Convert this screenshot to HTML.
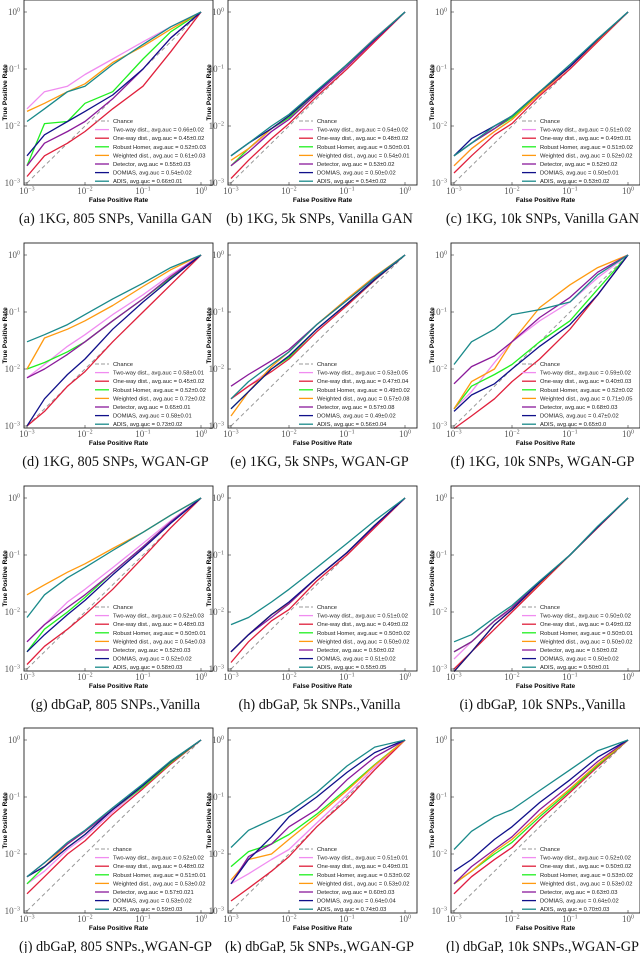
<!DOCTYPE html>
<html><head><meta charset="utf-8"><style>
html,body{margin:0;padding:0;background:#fff;width:640px;height:953px;overflow:hidden}
svg text{font-family:"Liberation Sans",sans-serif}
svg text.serif{font-family:"Liberation Serif",serif}
</style></head><body>
<svg id="fig" width="640" height="953" xmlns="http://www.w3.org/2000/svg"></svg>
<script>
const fpr = [0.001,0.002,0.005,0.01,0.03,0.1,0.3,1];
const seriesNames = ["Two-way dist.","One-way dist.","Robust Homer","Weighted dist.","Detector","DOMIAS","ADIS"];
const seriesColors = ["#f08cf0","#e0203c","#20f020","#ff9a10","#8a1a9a","#10108a","#1a8a8a"];
const captions = ["(a) 1KG, 805 SNPs, Vanilla GAN","(b) 1KG, 5k SNPs, Vanilla GAN","(c) 1KG, 10k SNPs, Vanilla GAN","(d) 1KG, 805 SNPs, WGAN-GP","(e) 1KG, 5k SNPs, WGAN-GP","(f) 1KG, 10k SNPs, WGAN-GP","(g) dbGaP, 805 SNPs.,Vanilla","(h) dbGaP, 5k SNPs.,Vanilla","(i) dbGaP, 10k SNPs.,Vanilla","(j) dbGaP, 805 SNPs.,WGAN-GP","(k) dbGaP, 5k SNPs.,WGAN-GP","(l) dbGaP, 10k SNPs.,WGAN-GP"];
const chanceLabels = ["Chance","Chance","Chance","Chance","Chance","Chance","Chance","Chance","Chance","chance","Chance","Chance"];
const aucA = ["0.66±0.02","0.45±0.02","0.52±0.03","0.61±0.03","0.55±0.03","0.54±0.02","0.66±0.01"];
const aucB = ["0.54±0.02","0.48±0.02","0.50±0.01","0.54±0.01","0.53±0.02","0.50±0.02","0.54±0.02"];
const aucC = ["0.51±0.02","0.49±0.01","0.51±0.02","0.52±0.02","0.52±0.02","0.50±0.01","0.53±0.02"];
const aucD = ["0.58±0.01","0.45±0.02","0.52±0.02","0.72±0.02","0.65±0.01","0.58±0.01","0.73±0.02"];
const aucE = ["0.53±0.05","0.47±0.04","0.49±0.02","0.57±0.08","0.57±0.08","0.49±0.02","0.56±0.04"];
const aucF = ["0.59±0.02","0.40±0.03","0.52±0.02","0.71±0.05","0.68±0.03","0.47±0.02","0.65±0.0"];
const aucG = ["0.52±0.03","0.48±0.03","0.50±0.01","0.54±0.03","0.52±0.03","0.52±0.02","0.58±0.03"];
const aucH = ["0.51±0.02","0.49±0.02","0.50±0.02","0.50±0.02","0.50±0.02","0.51±0.02","0.55±0.05"];
const aucI = ["0.50±0.02","0.49±0.02","0.50±0.01","0.50±0.02","0.50±0.02","0.50±0.02","0.50±0.01"];
const aucJ = ["0.52±0.02","0.48±0.02","0.51±0.01","0.53±0.02","0.57±0.021","0.53±0.02","0.59±0.03"];
const aucK = ["0.51±0.01","0.49±0.01","0.53±0.02","0.53±0.02","0.60±0.03","0.64±0.04","0.74±0.03"];
const aucL = ["0.52±0.02","0.50±0.02","0.53±0.02","0.53±0.02","0.63±0.03","0.64±0.02","0.70±0.03"];
const tprA = [[.02,.04,.05,.08,.15,.3,.55,1],[.0013,.003,.005,.008,.02,.05,.2,1],[.002,.011,.012,.025,.04,.15,.45,1],[.018,.025,.04,.055,.13,.25,.5,1],[.002,.005,.008,.012,.03,.1,.35,1],[.003,.007,.012,.018,.035,.1,.35,1],[.012,.02,.04,.05,.12,.27,.55,1]];
const tprB = [[.002,.004,.008,.014,.04,.12,.35,1],[.0012,.0025,.006,.011,.033,.1,.3,1],[.002,.004,.009,.014,.04,.12,.34,1],[.0025,.004,.009,.015,.04,.12,.34,1],[.002,.0035,.008,.013,.037,.11,.32,1],[.003,.005,.009,.015,.04,.12,.33,1],[.003,.005,.01,.016,.042,.12,.34,1]];
const tprC = [[.002,.004,.008,.013,.036,.11,.32,1],[.0015,.003,.007,.011,.034,.1,.3,1],[.003,.005,.009,.014,.038,.11,.33,1],[.002,.004,.008,.013,.037,.11,.32,1],[.003,.005,.009,.015,.04,.11,.33,1],[.003,.006,.01,.015,.04,.11,.33,1],[.003,.005,.01,.015,.04,.12,.34,1]];
const tprD = [[.007,.012,.025,.04,.09,.2,.45,1],[.001,.0018,.005,.009,.03,.1,.3,1],[.01,.013,.02,.03,.07,.17,.4,1],[.01,.035,.05,.07,.13,.28,.55,1],[.007,.01,.018,.03,.07,.17,.42,1],[.001,.003,.008,.015,.05,.15,.38,1],[.03,.04,.06,.09,.17,.32,.6,1]];
const tprE = [[.003,.005,.01,.017,.05,.14,.38,1],[.003,.005,.009,.015,.045,.13,.36,1],[.002,.004,.01,.016,.05,.14,.37,1],[.0015,.004,.011,.02,.06,.17,.42,1],[.005,.008,.014,.022,.06,.16,.4,1],[.002,.004,.01,.017,.05,.14,.37,1],[.003,.006,.012,.02,.06,.16,.4,1]];
const tprF = [[.002,.004,.013,.03,.07,.15,.4,1],[.0008,.0015,.003,.006,.015,.05,.2,1],[.002,.005,.008,.012,.03,.07,.25,1],[.002,.006,.01,.03,.12,.3,.6,1],[.0055,.011,.017,.03,.08,.18,.5,1],[.0018,.0035,.0055,.01,.025,.06,.2,1],[.012,.03,.05,.09,.11,.15,.45,1]];
const tprG = [[.003,.006,.015,.025,.06,.16,.4,1],[.0012,.0025,.005,.009,.025,.09,.3,1],[.002,.005,.01,.018,.05,.14,.38,1],[.02,.03,.05,.07,.13,.25,.5,1],[.003,.006,.012,.02,.05,.14,.38,1],[.002,.004,.009,.016,.045,.13,.36,1],[.008,.02,.04,.06,.12,.25,.5,1]];
const tprH = [[.002,.004,.009,.014,.04,.11,.33,1],[.0013,.003,.007,.011,.035,.1,.3,1],[.002,.004,.009,.014,.04,.11,.33,1],[.002,.004,.009,.014,.04,.11,.33,1],[.002,.004,.008,.014,.04,.11,.32,1],[.002,.004,.009,.015,.04,.11,.33,1],[.006,.008,.015,.025,.06,.16,.4,1]];
const tprI = [[.0015,.003,.007,.011,.033,.1,.31,1],[.001,.002,.005,.01,.03,.1,.3,1],[.002,.003,.007,.012,.033,.1,.31,1],[.0008,.002,.006,.011,.032,.1,.31,1],[.002,.003,.007,.012,.034,.1,.31,1],[.0008,.002,.006,.011,.033,.1,.31,1],[.003,.004,.008,.013,.035,.1,.32,1]];
const tprJ = [[.003,.005,.012,.02,.055,.15,.4,1],[.002,.004,.01,.017,.05,.14,.38,1],[.003,.006,.013,.022,.06,.15,.4,1],[.004,.006,.015,.025,.06,.16,.42,1],[.004,.007,.015,.025,.06,.16,.42,1],[.004,.006,.013,.022,.06,.16,.42,1],[.004,.007,.016,.026,.065,.17,.43,1]];
const tprK = [[.003,.0045,.008,.012,.035,.11,.33,1],[.0015,.0025,.005,.009,.03,.09,.3,1],[.006,.011,.015,.022,.05,.14,.37,1],[.0035,.008,.01,.018,.045,.13,.36,1],[.003,.009,.015,.03,.06,.2,.5,1],[.003,.008,.02,.045,.1,.27,.6,1],[.013,.026,.04,.055,.12,.35,.75,1]];
const tprL = [[.002,.004,.008,.013,.04,.12,.34,1],[.002,.004,.008,.013,.04,.12,.34,1],[.003,.005,.01,.016,.045,.13,.36,1],[.003,.005,.011,.018,.05,.14,.38,1],[.003,.006,.012,.02,.06,.16,.42,1],[.005,.008,.018,.03,.08,.2,.5,1],[.012,.025,.045,.06,.13,.3,.65,1]];
const allTpr = [tprA,tprB,tprC,tprD,tprE,tprF,tprG,tprH,tprI,tprJ,tprK,tprL];
const allAuc = [aucA,aucB,aucC,aucD,aucE,aucF,aucG,aucH,aucI,aucJ,aucK,aucL];

const NS="http://www.w3.org/2000/svg";
const svg=document.getElementById('fig');
function mk(tag,attrs,parent,txt){const e=document.createElementNS(NS,tag);for(const k in attrs)e.setAttribute(k,attrs[k]);if(txt!==undefined)e.textContent=txt;(parent||svg).appendChild(e);return e;}
const colLeft=[24,228,451], rowTop=[0,243,486,728], W=189, H=185;
for(let p=0;p<12;p++){
  const L=colLeft[p%3], T=rowTop[Math.floor(p/3)];
  const g=mk('g',{});
  
  
  const xs=v=>L+3+(Math.log10(v)+3)/3*174;
  const ys=v=>T+12+(-Math.log10(v))/3*171;
  const ch=mk('line',{x1:xs(0.001),y1:ys(0.001),x2:xs(1),y2:ys(1),stroke:'#999','stroke-width':1,'stroke-dasharray':'4,3'},g);
  
  
  const tpr=allTpr[p];
  for(let s=0;s<7;s++){
    const pts=fpr.map((f,i)=>xs(f).toFixed(1)+','+ys(Math.max(tpr[s][i],0.0009)).toFixed(1)).join(' ');
    const pl=mk('polyline',{points:pts,fill:'none',stroke:seriesColors[s],'stroke-width':1.3,'stroke-linejoin':'round'},g);
    
    
  }
  const box=mk('rect',{x:L,y:T,width:W,height:H,fill:'none',stroke:'#222','stroke-width':0.9},g);
  
  
  for(let k=0;k<=3;k++){
    const v=Math.pow(10,-k);
    mk('line',{x1:xs(v),y1:T+H,x2:xs(v),y2:T+H-3,stroke:'#333','stroke-width':0.6},g);
    mk('line',{x1:L,y1:ys(v),x2:L+3,y2:ys(v),stroke:'#333','stroke-width':0.6},g);
    const xl=mk('text',{x:xs(v),y:T+H+9,'text-anchor':'middle','font-size':9,fill:'#555','class':'serif'},g);
    
    
    xl.textContent='10';
    mk('tspan',{dy:-3.5,'font-size':6},xl,k?('−'+k):'0');
    const yl=mk('text',{x:L-4,y:ys(v)+3,'text-anchor':'end','font-size':9,fill:'#555','class':'serif'},g);
    
    
    yl.textContent='10';
    mk('tspan',{dy:-3.5,'font-size':6},yl,k?('−'+k):'0');
  }
  const xt=mk('text',{x:L+W/2,y:T+H+17,'text-anchor':'middle','font-size':6.5,'font-weight':'bold'},g,'False Positive Rate');
  
  
  const yt=mk('text',{x:0,y:0,'text-anchor':'middle','font-size':6.5,'font-weight':'bold',transform:`translate(${L-17},${T+H/2}) rotate(-90)`},g,'True Positive Rate');
  
  
  const lx=L+71, ly=T+121, sp=8.6;
  mk('line',{x1:lx,y1:ly,x2:lx+14,y2:ly,stroke:'#999','stroke-width':1,'stroke-dasharray':'4,2'},g);
  const lct=mk('text',{x:lx+18,y:ly+2,'font-size':5.8,fill:'#222'},g,chanceLabels[p]);
  
  
  for(let s=0;s<7;s++){
    const yy=ly+sp*(s+1);
    mk('line',{x1:lx,y1:yy,x2:lx+14,y2:yy,stroke:seriesColors[s],'stroke-width':1.3},g);
    const t=mk('text',{x:lx+18,y:yy+2,'font-size':5.8,fill:'#222'},g,seriesNames[s]+', avg.auc = '+allAuc[p][s]);
    
    
  }
  const cap=mk('text',{x:L+W/2-3,y:T+H+38,'text-anchor':'middle','font-size':14.3,fill:'#111','class':'serif'},g,captions[p]);
  
  
}
</script>
</body></html>
